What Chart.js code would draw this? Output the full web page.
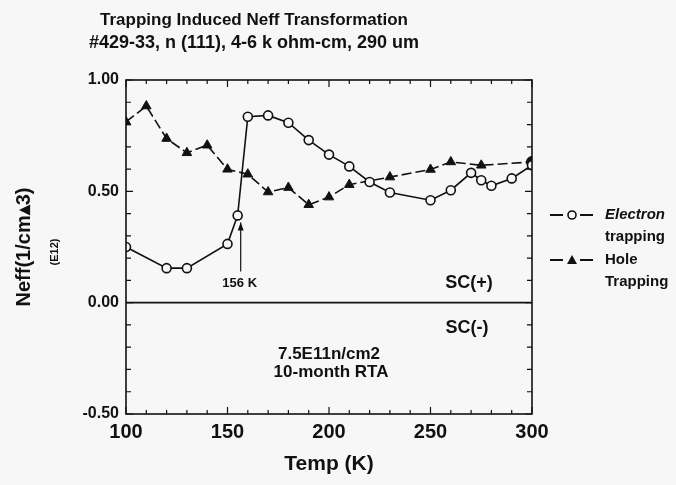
<!DOCTYPE html>
<html>
<head>
<meta charset="utf-8">
<script src="https://cdn.jsdelivr.net/npm/chart.js@4.4.0/dist/chart.umd.min.js"></script>
<style>
  html, body { margin: 0; padding: 0; background: #f7f7f7; }
  #wrap { width: 676px; height: 485px; position: relative; }
</style>
</head>
<body>
<div id="wrap"><canvas id="myChart" width="676" height="485"></canvas></div>
<script>
// data (Neff in units of 1E12 /cm^3)
var electronTemp = [100, 120, 130, 150, 155, 160, 170, 180, 190, 200, 210, 220, 230, 250, 260, 270, 275, 280, 290, 300];
var electronNeff = [0.25, 0.155, 0.155, 0.264, 0.392, 0.835, 0.841, 0.808, 0.73, 0.665, 0.612, 0.542, 0.495, 0.46, 0.505, 0.583, 0.55, 0.525, 0.558, 0.617];
var holeTemp = [100, 110, 120, 130, 140, 150, 160, 170, 180, 190, 200, 210, 230, 250, 260, 275, 300];
var holeNeff = [0.812, 0.883, 0.737, 0.673, 0.707, 0.599, 0.577, 0.497, 0.517, 0.44, 0.474, 0.53, 0.564, 0.598, 0.632, 0.617, 0.632];
var xTickLabels = [100, 150, 200, 250, 300];
var yTickLabels = [-0.5, 0, 0.5, 1.0];
var titleLines = ['Trapping Induced Neff Transformation', '#429-33, n (111), 4-6 k ohm-cm, 290 um'];
var seriesNames = [['Electron', 'trapping'], ['Hole', 'Trapping']];
// notes written on the plot: [text, temp, neff, font size]
var notes = [
    ['156 K', 156, 0.086, 13],
    ['SC(+)', 269, 0.086, 18],
    ['SC(-)', 268, -0.113, 18],
    ['7.5E11n/cm2', 200, -0.23, 17],
    ['10-month RTA', 201, -0.315, 17]
];

var bg = '#f7f7f7';
var ink = '#111';
var fam = '"Liberation Sans", Arial, sans-serif';

function toPoints(xs, ys) {
    return xs.map((x, i) => ({ x: x, y: ys[i] }));
}

function near(v, list) {
    return list.some(t => Math.abs(t - v) < 1e-6);
}

// title, frame, inward ticks, zero line, notes, arrow and legend
var decorations = {
    id: 'decorations',
    afterDraw: function (chart) {
        var ctx = chart.ctx;
        var a = chart.chartArea;
        var xs = chart.scales.x;
        var ys = chart.scales.y;
        ctx.save();

        ctx.fillStyle = ink;
        ctx.textAlign = 'center';
        ctx.textBaseline = 'middle';
        ctx.font = 'bold 17px ' + fam;
        ctx.fillText(titleLines[0], 254, 20);
        ctx.font = 'bold 18px ' + fam;
        ctx.fillText(titleLines[1], 254, 43);

        ctx.strokeStyle = ink;
        ctx.lineWidth = 1.6;
        ctx.strokeRect(a.left, a.top, a.right - a.left, a.bottom - a.top);

        // zero line
        var y0 = ys.getPixelForValue(0);
        ctx.beginPath();
        ctx.moveTo(a.left, y0);
        ctx.lineTo(a.right, y0);
        ctx.stroke();

        ctx.lineWidth = 1.2;
        ctx.beginPath();
        for (var t = 100; t <= 300; t += 10) {
            var px = xs.getPixelForValue(t);
            var len = near(t, xTickLabels) ? 7 : 4;
            ctx.moveTo(px, a.bottom); ctx.lineTo(px, a.bottom - len);
            ctx.moveTo(px, a.top); ctx.lineTo(px, a.top + len);
        }
        for (var k = -5; k <= 10; k++) {
            var v = k / 10;
            var py = ys.getPixelForValue(v);
            var l2 = near(v, yTickLabels) ? 7 : 5;
            ctx.moveTo(a.left, py); ctx.lineTo(a.left + l2, py);
            ctx.moveTo(a.right, py); ctx.lineTo(a.right - l2, py);
        }
        ctx.stroke();

        // notes
        notes.forEach(n => {
            ctx.font = 'bold ' + n[3] + 'px ' + fam;
            ctx.fillText(n[0], xs.getPixelForValue(n[1]), ys.getPixelForValue(n[2]));
        });

        // arrow up to the 155 K point
        var ax = xs.getPixelForValue(156.5);
        var yFrom = ys.getPixelForValue(0.14);
        var yTo = ys.getPixelForValue(0.36);
        ctx.lineWidth = 1.2;
        ctx.beginPath();
        ctx.moveTo(ax, yFrom);
        ctx.lineTo(ax, yTo);
        ctx.stroke();
        ctx.beginPath();
        ctx.moveTo(ax, yTo);
        ctx.lineTo(ax - 3, yTo + 8);
        ctx.lineTo(ax + 3, yTo + 8);
        ctx.closePath();
        ctx.fill();

        // (E12) next to the y title
        ctx.save();
        ctx.translate(55, 252);
        ctx.rotate(-Math.PI / 2);
        ctx.font = 'bold 11px ' + fam;
        ctx.fillText('(E12)', 0, 0);
        ctx.restore();

        // legend
        var lx = 550, rows = [215, 260];
        ctx.textAlign = 'left';
        rows.forEach((ry, i) => {
            ctx.lineWidth = 1.8;
            ctx.beginPath();
            ctx.moveTo(lx, ry); ctx.lineTo(lx + 13, ry);
            ctx.moveTo(lx + 30, ry); ctx.lineTo(lx + 43, ry);
            ctx.stroke();
            if (i === 0) {
                ctx.lineWidth = 1.6;
                ctx.beginPath();
                ctx.arc(lx + 22, ry, 4, 0, Math.PI * 2);
                ctx.fillStyle = bg;
                ctx.fill();
                ctx.stroke();
            } else {
                ctx.beginPath();
                ctx.moveTo(lx + 22, ry - 5);
                ctx.lineTo(lx + 27, ry + 4);
                ctx.lineTo(lx + 17, ry + 4);
                ctx.closePath();
                ctx.fillStyle = ink;
                ctx.fill();
            }
            ctx.fillStyle = ink;
            ctx.font = (i === 0 ? 'italic bold ' : 'bold ') + '15px ' + fam;
            ctx.fillText(seriesNames[i][0], 605, ry);
            ctx.font = 'bold 15px ' + fam;
            ctx.fillText(seriesNames[i][1], 605, ry + 22);
        });
        ctx.restore();
    }
};

var holeStyles = holeTemp.map((t, i) => i === holeTemp.length - 1 ? 'circle' : 'triangle');

var ctx = document.getElementById('myChart').getContext('2d');
var myChart = new Chart(ctx, {
    type: 'scatter',
    data: {
        datasets: [{
            label: seriesNames[0].join(' '),
            data: toPoints(electronTemp, electronNeff),
            showLine: true,
            borderColor: ink,
            borderWidth: 1.6,
            backgroundColor: bg,
            pointStyle: 'circle',
            pointRadius: 4.5,
            pointBorderWidth: 1.6,
            pointBorderColor: ink,
            pointBackgroundColor: bg
        }, {
            label: seriesNames[1].join(' '),
            data: toPoints(holeTemp, holeNeff),
            showLine: true,
            borderColor: ink,
            borderWidth: 1.6,
            borderDash: [10, 4],
            pointStyle: holeStyles,
            pointRadius: 5.5,
            pointBorderWidth: 1,
            pointBorderColor: ink,
            pointBackgroundColor: ink
        }]
    },
    options: {
        responsive: false,
        animation: false,
        events: [],
        layout: { padding: { left: 0, right: 144, top: 80, bottom: 0 } },
        plugins: {
            legend: { display: false },
            tooltip: { enabled: false },
            title: { display: false }
        },
        scales: {
            x: {
                type: 'linear',
                min: 100,
                max: 300,
                grid: { display: false, drawTicks: false },
                border: { display: false },
                ticks: {
                    stepSize: 10,
                    autoSkip: false,
                    maxRotation: 0,
                    padding: 6,
                    color: ink,
                    font: { family: fam, size: 20, weight: 'bold' },
                    callback: v => near(v, xTickLabels) ? String(v) : ''
                },
                title: {
                    display: true,
                    text: 'Temp (K)',
                    color: ink,
                    font: { family: fam, size: 21, weight: 'bold' },
                    padding: { top: 4, bottom: 8 }
                },
                afterFit: function (s) { s.height = 71; }
            },
            y: {
                min: -0.5,
                max: 1.0,
                grid: { display: false, drawTicks: false },
                border: { display: false },
                ticks: {
                    stepSize: 0.1,
                    autoSkip: false,
                    padding: 7,
                    color: ink,
                    font: { family: fam, size: 16, weight: 'bold' },
                    callback: v => near(v, yTickLabels) ? v.toFixed(2) : ''
                },
                title: {
                    display: true,
                    text: 'Neff(1/cm\u25B43)',
                    color: ink,
                    font: { family: fam, size: 20, weight: 'bold' },
                    padding: { top: 12, bottom: 0 }
                },
                afterFit: function (s) { s.width = 126; }
            }
        }
    },
    plugins: [decorations]
});
</script>
</body>
</html>
